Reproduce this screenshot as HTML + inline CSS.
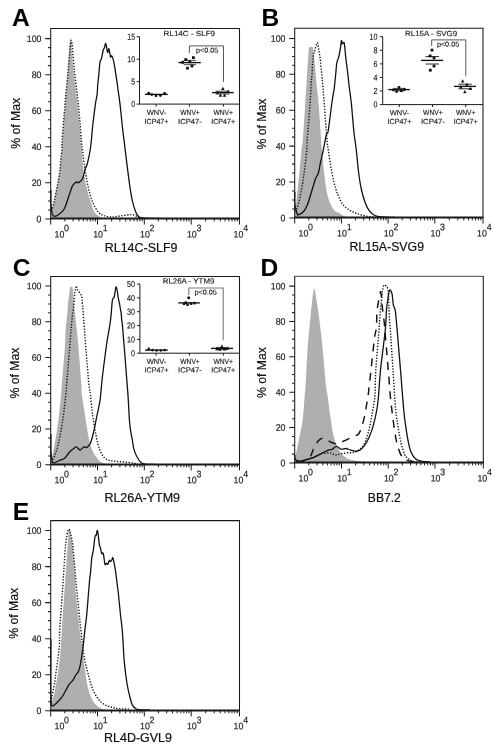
<!DOCTYPE html>
<html><head><meta charset="utf-8"><title>Figure</title>
<style>html,body{margin:0;padding:0;background:#fff}svg{display:block}text{font-family:"Liberation Sans", Arial, Helvetica, sans-serif}.tk{fill:#222;stroke:#222;stroke-width:.18px}.lb{fill:#111;stroke:#111;stroke-width:.2px}.in{fill:#222;stroke:#222;stroke-width:.15px}</style>
</head><body>
<svg width="501" height="751" viewBox="0 0 501 751">
<rect width="501" height="751" fill="#fff"/>
<path d="M50.7 218.9C50.7 217.4 50.6 211.7 50.9 210C51.1 208.3 51.5 211 52.2 209C52.9 207 53.7 203.8 54.9 198C56.1 192.2 58.2 182 59.4 174C60.5 166 61.3 155.7 61.8 150C62.3 144.3 61.8 147.5 62.4 140C63 132.5 64.3 116.5 65.2 104.8C66.1 93.1 67.1 81.2 68 70C68.9 58.8 69.6 37.8 70.5 37.8C71.4 37.8 72.3 58.8 73.5 70C74.7 81.2 76.4 93.1 77.6 104.8C78.8 116.5 79.7 128.5 80.8 140C81.9 151.5 83 165.7 84.1 174C85.2 182.3 86 184.7 87.3 190C88.6 195.3 90.6 202 92.1 206C93.5 210 94 211.8 96 214C98 216.2 102.7 218.1 104 218.9Z" fill="#afafaf" stroke="none"/>
<path d="M50.9 210.5C51.1 210.2 51.5 211.1 52.2 209C52.9 206.9 53.7 203.8 54.9 198C56.1 192.2 58.2 182 59.4 174C60.5 166 61.3 155.7 61.8 150C62.3 144.3 61.7 147.5 62.2 140C62.7 132.5 64 116.5 65 104.8C66 93.1 67.2 80.7 68.2 70C69.2 59.3 70.3 40.5 71.3 40.5C72.3 40.5 73.1 59.3 74.3 70C75.5 80.7 77.2 93.1 78.4 104.8C79.6 116.5 80.7 132.5 81.4 140C82.1 147.5 81.8 144.3 82.5 150C83.2 155.7 84.6 167.3 85.7 174C86.8 180.7 87.7 185.2 88.9 190C90.1 194.8 91.3 199 92.9 202.7C94.5 206.4 96.7 210.2 98.5 212.3C100.3 214.4 101.8 214.7 104 215.5C106.2 216.3 109.1 216.9 112 217C114.9 217.1 118.3 216.2 121.6 215.8C124.9 215.4 129.1 214.5 131.7 214.6C134.3 214.7 135.4 215.9 137 216.5C138.6 217.1 140.3 217.9 141 218.2" fill="none" stroke="#111" stroke-width="1.4" stroke-dasharray="1.3 1.6"/>
<path d="M50.9 190C50.9 192.1 50.7 198.7 50.9 202.7C51.1 206.7 51.6 211.6 52.2 213.9C52.8 216.2 53.4 216.3 54.6 216.3C55.8 216.3 57.8 215.1 59.4 213.9C61 212.7 62.7 211.7 64.2 209C65.7 206.3 66.9 201.7 68.2 198C69.5 194.3 71 189.2 72.1 186.7C73.2 184.2 74.2 183.8 75 183C75.8 182.2 76.4 182.1 77 182C77.6 181.9 77.7 183.2 78.6 182.6C79.5 182 81.4 181 82.5 178.7C83.6 176.4 84.4 171.6 85.2 169C86 166.4 86.6 166.5 87.5 163C88.4 159.5 89.6 154.5 90.5 148C91.4 141.5 92.1 131.2 92.9 124C93.7 116.8 94.6 109.8 95.3 104.8C96 99.8 96.8 97 97.2 93.7C97.6 90.4 97.4 88.1 97.7 85C98 81.9 98.4 78.7 98.8 74.9C99.2 71.1 99.5 64.9 100 62.1C100.5 59.3 101.1 60.2 101.6 58.2C102.1 56.2 102.7 51.9 103.2 50.2C103.7 48.5 104 48.9 104.4 47.8C104.8 46.7 105.3 43.4 105.7 43.5C106.1 43.6 106.5 47.1 106.8 48.6C107.1 50.1 107.3 52.6 107.6 52.6C107.9 52.6 108.5 48.7 108.8 48.6C109.1 48.5 109.3 50.8 109.6 52.2C109.9 53.6 110.2 56.4 110.5 57C110.8 57.6 111.2 55.5 111.6 55.8C112 56.1 112.5 57.4 112.9 58.6C113.3 59.8 113.6 61 114 62.9C114.4 64.8 114.8 67.6 115.2 70.1C115.6 72.6 116 75.6 116.4 78.1C116.8 80.6 117.2 83.2 117.4 85C117.7 86.8 117.5 85.6 117.9 88.9C118.4 92.2 119.3 98.4 120.1 104.8C120.8 111.2 121.8 121.4 122.4 127.3C123.1 133.2 123.2 133.8 124 140C124.8 146.2 125.9 155.8 127 164.6C128.1 173.4 129.7 185.8 130.8 192.6C131.9 199.4 132.5 201.9 133.6 205.6C134.7 209.3 135.8 212.9 137.3 215C138.9 217.1 139.1 217.3 142.9 217.9C146.7 218.5 157.2 218.3 160 218.4" fill="none" stroke="#111" stroke-width="1.3" stroke-linejoin="round"/>
<path d="M50.7 218.9V28.4H239.5V218.9" fill="none" stroke="#1a1a1a" stroke-width="1.05"/>
<path d="M50.2 218.6H240" fill="none" stroke="#1a1a1a" stroke-width="2"/>
<path d="M45.3 218.9H50.7M48.1 209.9H50.7M48.1 200.9H50.7M48.1 191.9H50.7M45.3 182.8H50.7M48.1 173.8H50.7M48.1 164.8H50.7M48.1 155.8H50.7M45.3 146.8H50.7M48.1 137.8H50.7M48.1 128.8H50.7M48.1 119.7H50.7M45.3 110.7H50.7M48.1 101.7H50.7M48.1 92.7H50.7M48.1 83.7H50.7M45.3 74.7H50.7M48.1 65.6H50.7M48.1 56.6H50.7M48.1 47.6H50.7M45.3 38.6H50.7" stroke="#1a1a1a" stroke-width="1.05" fill="none"/>
<text transform="translate(41.5 222.2) scale(.93 1) rotate(.03)" text-anchor="end" font-size="9.5" class="tk">0</text>
<text transform="translate(41.5 186.1) scale(.93 1) rotate(.03)" text-anchor="end" font-size="9.5" class="tk">20</text>
<text transform="translate(41.5 150.1) scale(.93 1) rotate(.03)" text-anchor="end" font-size="9.5" class="tk">40</text>
<text transform="translate(41.5 114) scale(.93 1) rotate(.03)" text-anchor="end" font-size="9.5" class="tk">60</text>
<text transform="translate(41.5 78) scale(.93 1) rotate(.03)" text-anchor="end" font-size="9.5" class="tk">80</text>
<text transform="translate(41.5 41.9) scale(.93 1) rotate(.03)" text-anchor="end" font-size="9.5" class="tk">100</text>
<path d="M50.7 218.9V224.5M64.8 218.9V221.4M73 218.9V221.4M78.9 218.9V221.4M83.4 218.9V221.4M87.1 218.9V221.4M90.3 218.9V221.4M93 218.9V221.4M95.4 218.9V221.4M97.5 218.9V224.5M111.6 218.9V221.4M119.9 218.9V221.4M125.7 218.9V221.4M130.2 218.9V221.4M134 218.9V221.4M137.1 218.9V221.4M139.8 218.9V221.4M142.2 218.9V221.4M144.3 218.9V224.5M158.4 218.9V221.4M166.7 218.9V221.4M172.5 218.9V221.4M177.1 218.9V221.4M180.8 218.9V221.4M183.9 218.9V221.4M186.6 218.9V221.4M189 218.9V221.4M191.2 218.9V224.5M205.7 218.9V221.4M214.2 218.9V221.4M220.3 218.9V221.4M225 218.9V221.4M228.8 218.9V221.4M232 218.9V221.4M234.8 218.9V221.4M237.3 218.9V221.4M239.5 218.9V224.5" stroke="#1a1a1a" stroke-width="1" fill="none"/>
<text transform="translate(59.4 237.4) scale(.93 1) rotate(.03)" text-anchor="middle" font-size="9.5" class="tk">10</text>
<text transform="translate(64.1 231.3) scale(.93 1) rotate(.03)" font-size="9.5" class="tk">0</text>
<text transform="translate(98.1 237.4) scale(.93 1) rotate(.03)" text-anchor="middle" font-size="9.5" class="tk">10</text>
<text transform="translate(102.8 231.3) scale(.93 1) rotate(.03)" font-size="9.5" class="tk">1</text>
<text transform="translate(144.9 237.4) scale(.93 1) rotate(.03)" text-anchor="middle" font-size="9.5" class="tk">10</text>
<text transform="translate(149.6 231.3) scale(.93 1) rotate(.03)" font-size="9.5" class="tk">2</text>
<text transform="translate(191.8 237.4) scale(.93 1) rotate(.03)" text-anchor="middle" font-size="9.5" class="tk">10</text>
<text transform="translate(196.5 231.3) scale(.93 1) rotate(.03)" font-size="9.5" class="tk">3</text>
<text transform="translate(238.5 237.4) scale(.93 1) rotate(.03)" text-anchor="middle" font-size="9.5" class="tk">10</text>
<text transform="translate(243.2 231.3) scale(.93 1) rotate(.03)" font-size="9.5" class="tk">4</text>
<text x="141.1" y="251.7" text-anchor="middle" font-size="12.2" textLength="72.7" lengthAdjust="spacingAndGlyphs" class="lb">RL14C-SLF9</text>
<text x="12.1" y="26.4" font-size="24.6" font-weight="bold" fill="#000">A</text>
<text transform="translate(20.4 123.3) rotate(-90)" text-anchor="middle" font-size="12.2" class="lb">% of Max</text>
<path d="M139.5 36.7V104.1H239.5" fill="none" stroke="#1a1a1a" stroke-width="1"/>
<text transform="translate(135.1 107.1) scale(.82 1) rotate(.03)" text-anchor="end" font-size="8.7" class="in">0</text>
<text transform="translate(135.1 84.6) scale(.82 1) rotate(.03)" text-anchor="end" font-size="8.7" class="in">5</text>
<text transform="translate(135.1 62.2) scale(.82 1) rotate(.03)" text-anchor="end" font-size="8.7" class="in">10</text>
<text transform="translate(135.1 39.7) scale(.82 1) rotate(.03)" text-anchor="end" font-size="8.7" class="in">15</text>
<path d="M136.7 104.1H139.5M136.7 81.6H139.5M136.7 59.2H139.5M136.7 36.7H139.5M156.1 104.1V106.6M189.4 104.1V106.6M223.4 104.1V106.6" stroke="#1a1a1a" stroke-width="1" fill="none"/>
<text transform="rotate(.03 163.6 35.9)" x="163.6" y="35.9" textLength="51.5" lengthAdjust="spacingAndGlyphs" font-size="7.4" class="in">RL14C - SLF9</text>
<circle cx="148.7" cy="93.2" r="1.4" fill="#111"/><circle cx="151.8" cy="94.6" r="1.4" fill="#111"/><circle cx="156" cy="95.8" r="1.4" fill="#111"/><circle cx="160.4" cy="95.5" r="1.4" fill="#111"/><circle cx="164.6" cy="93.4" r="1.4" fill="#111"/><path d="M144.8 94.4H167.8" stroke="#111" stroke-width="1.35"/>
<rect x="184.4" y="58.2" width="2.8" height="2.8" fill="#111"/><rect x="192" y="56.2" width="2.8" height="2.8" fill="#111"/><rect x="181.2" y="60.9" width="2.8" height="2.8" fill="#111"/><rect x="188.4" y="60.4" width="2.8" height="2.8" fill="#111"/><rect x="186.1" y="66.8" width="2.8" height="2.8" fill="#111"/><rect x="190.6" y="64.6" width="2.8" height="2.8" fill="#111"/><path d="M178.4 62.6H200.8" stroke="#111" stroke-width="1.35"/><path d="M183.7 60.4H196" stroke="#111" stroke-width="0.8"/><path d="M183.7 64.7H196" stroke="#111" stroke-width="0.8"/>
<path d="M222.8 86.8L224.6 90H221.1Z" fill="#111"/><path d="M217.6 90.7L219.3 93.8H215.8Z" fill="#111"/><path d="M228.1 89.8L229.8 93H226.3Z" fill="#111"/><path d="M220.4 93.5L222.2 96.7H218.7Z" fill="#111"/><path d="M224.6 93.5L226.3 96.7H222.8Z" fill="#111"/><path d="M212 92.6H233.7" stroke="#111" stroke-width="1.35"/><path d="M215.5 91.2H229.5" stroke="#111" stroke-width="0.8"/><path d="M215.5 94H229.5" stroke="#111" stroke-width="0.8"/>
<path d="M189.4 52.9V45.9H223.5V81.8" fill="none" stroke="#444" stroke-width="0.9"/>
<text transform="rotate(.03 196 52.5)" x="196" y="52.5" textLength="22.3" lengthAdjust="spacingAndGlyphs" font-size="6.9" class="in">p&lt;0.05</text>
<text transform="rotate(.03 156.5 114.9)" x="156.5" y="114.9" text-anchor="middle" textLength="19.6" lengthAdjust="spacingAndGlyphs" font-size="7.4" class="in">WNV-</text>
<text transform="rotate(.03 156.5 123.9)" x="156.5" y="123.9" text-anchor="middle" textLength="23.8" lengthAdjust="spacingAndGlyphs" font-size="7.4" class="in">ICP47+</text>
<text transform="rotate(.03 190 114.9)" x="190" y="114.9" text-anchor="middle" textLength="19.6" lengthAdjust="spacingAndGlyphs" font-size="7.4" class="in">WNV+</text>
<text transform="rotate(.03 190 123.9)" x="190" y="123.9" text-anchor="middle" textLength="23.8" lengthAdjust="spacingAndGlyphs" font-size="7.4" class="in">ICP47-</text>
<text transform="rotate(.03 223.2 114.9)" x="223.2" y="114.9" text-anchor="middle" textLength="19.6" lengthAdjust="spacingAndGlyphs" font-size="7.4" class="in">WNV+</text>
<text transform="rotate(.03 223.2 123.9)" x="223.2" y="123.9" text-anchor="middle" textLength="23.8" lengthAdjust="spacingAndGlyphs" font-size="7.4" class="in">ICP47+</text>
<path d="M294.7 217.9C294.7 216.9 294.6 215.3 294.9 212C295.2 208.7 296 204.3 296.7 198C297.4 191.7 298.5 182 299.3 174C300.1 166 300.9 155.7 301.5 150C302.1 144.3 302.2 147.5 302.8 140C303.4 132.5 304.6 114 305.2 104.8C305.8 95.6 306 90.8 306.4 85C306.8 79.2 307 74.5 307.3 70C307.6 65.5 307.9 61.6 308.2 58C308.4 54.4 308.6 50.4 308.8 48.6C309 46.8 309 47.4 309.6 47.2C310.2 47 311.9 47 312.5 47.2C313.1 47.4 313 46.8 313.3 48.6C313.6 50.4 313.9 54.4 314.2 58C314.5 61.6 315 65.5 315.4 70C315.8 74.5 316.1 79.2 316.7 85C317.2 90.8 318 95.6 318.7 104.8C319.4 114 320.6 132.5 321.1 140C321.6 147.5 321.4 144.3 321.9 150C322.4 155.7 323.6 167.3 324.3 174C325.1 180.7 325.5 185.2 326.4 190C327.3 194.8 328.5 199.2 329.9 202.7C331.3 206.1 333.1 209 334.7 210.7C336.3 212.4 337.9 212.1 339.5 213C341.1 213.9 342.1 215.5 344.3 216.3C346.6 217.1 351.6 217.6 353 217.9Z" fill="#afafaf" stroke="none"/>
<path d="M294.9 211.5C295.2 211.1 295.9 211.2 296.7 209C297.5 206.8 298.7 203.8 299.9 198C301.1 192.2 302.9 182 304 174C305.1 166 306.3 155.7 306.8 150C307.3 144.3 306.7 147.5 307.2 140C307.7 132.5 309.3 114.3 310 104.8C310.7 95.3 310.9 87.9 311.2 82.9C311.5 77.9 311.8 77.6 312 74.9C312.2 72.2 312.3 69.3 312.4 66.9C312.5 64.5 312.6 62.5 312.8 60.5C313 58.5 313.2 56.5 313.6 54.6C314 52.7 314.6 51 315.2 49C315.8 47 316.6 42.9 317.2 42.8C317.8 42.7 318.2 46.6 318.6 48.6C319 50.6 319.3 52.6 319.6 54.6C319.9 56.6 320.1 58 320.4 60.5C320.7 63 320.9 66.5 321.2 69.3C321.5 72.1 321.8 74.9 322 77.3C322.2 79.7 322.2 79.1 322.6 83.7C323 88.3 323.6 95.4 324.3 104.8C325 114.2 326.3 132.5 327 140C327.7 147.5 327.7 145.7 328.3 150C328.9 154.3 329.8 160.7 330.7 166C331.6 171.3 332.7 177.2 333.9 182C335.1 186.8 336.4 191 337.9 194.7C339.4 198.4 340.8 201.8 342.7 204.3C344.6 206.8 347 208.5 349.1 209.9C351.2 211.3 353.1 212.1 355.5 213C357.9 213.9 360.8 214.8 363.5 215.5C366.2 216.2 369.2 216.7 372 217C374.8 217.3 378.7 217.5 380 217.6" fill="none" stroke="#111" stroke-width="1.4" stroke-dasharray="1.3 1.6"/>
<path d="M294.9 192C294.9 194.1 294.5 200.7 294.9 204.3C295.3 208 296.5 212.2 297.2 213.9C297.9 215.6 297.7 215.1 298.8 214.7C299.9 214.3 302.1 213.2 303.6 211.5C305.1 209.8 306.3 207.6 307.6 204.3C308.9 201 310.3 195.8 311.6 191.5C312.9 187.2 314.4 181.8 315.5 178.7C316.6 175.6 317.5 175.9 318.4 173C319.3 170.1 319.8 165.5 320.7 161.5C321.6 157.5 322.6 153.4 323.5 149C324.4 144.6 325.6 137.6 326.4 134.8C327.1 132 327.4 135.1 328 132C328.6 128.9 329.5 121.3 330.2 116C330.9 110.7 331.6 104.5 332.3 100C333 95.5 333.8 91.4 334.2 88.9C334.6 86.4 334.3 87.6 334.6 85C334.9 82.4 335.4 77 335.8 73.3C336.2 69.6 336.3 65.5 336.8 62.9C337.3 60.2 338 59.6 338.6 57.4C339.2 55.1 339.7 52.2 340.2 49.4C340.7 46.6 341.1 41.6 341.4 40.7C341.7 39.8 341.9 43.5 342.2 43.8C342.5 44.1 342.9 42.7 343.2 42.6C343.5 42.5 343.9 41.9 344.2 43C344.5 44.1 344.7 46.4 345 49.4C345.3 52.4 345.7 57.3 346.2 61.3C346.7 65.3 347.3 69.3 347.8 73.3C348.3 77.2 348.7 82.4 349 85C349.3 87.6 349.1 85.6 349.5 88.9C349.9 92.2 350.8 97.6 351.5 104.8C352.2 112 353.1 124.5 353.9 132C354.7 139.5 355.5 143 356.3 150C357.1 157 357.9 167.3 358.8 174C359.7 180.7 360.4 185.2 361.5 190C362.6 194.8 363.9 199.2 365.2 202.7C366.5 206.1 367.6 208.6 369.2 210.7C370.8 212.8 372.7 214.4 374.8 215.5C376.9 216.6 378.5 216.7 381.9 217C385.3 217.3 392.8 217.4 395 217.5" fill="none" stroke="#111" stroke-width="1.3" stroke-linejoin="round"/>
<path d="M294.7 217.9V28.3H483V217.9" fill="none" stroke="#1a1a1a" stroke-width="1.05"/>
<path d="M294.2 217.6H483.5" fill="none" stroke="#1a1a1a" stroke-width="2"/>
<path d="M289.3 217.9H294.7M292.1 208.9H294.7M292.1 200H294.7M292.1 191H294.7M289.3 182H294.7M292.1 173H294.7M292.1 164.1H294.7M292.1 155.1H294.7M289.3 146.1H294.7M292.1 137.1H294.7M292.1 128.2H294.7M292.1 119.2H294.7M289.3 110.2H294.7M292.1 101.2H294.7M292.1 92.3H294.7M292.1 83.3H294.7M289.3 74.3H294.7M292.1 65.3H294.7M292.1 56.4H294.7M292.1 47.4H294.7M289.3 38.4H294.7" stroke="#1a1a1a" stroke-width="1.05" fill="none"/>
<text transform="translate(285.5 221.2) scale(.93 1) rotate(.03)" text-anchor="end" font-size="9.5" class="tk">0</text>
<text transform="translate(285.5 185.3) scale(.93 1) rotate(.03)" text-anchor="end" font-size="9.5" class="tk">20</text>
<text transform="translate(285.5 149.4) scale(.93 1) rotate(.03)" text-anchor="end" font-size="9.5" class="tk">40</text>
<text transform="translate(285.5 113.5) scale(.93 1) rotate(.03)" text-anchor="end" font-size="9.5" class="tk">60</text>
<text transform="translate(285.5 77.6) scale(.93 1) rotate(.03)" text-anchor="end" font-size="9.5" class="tk">80</text>
<text transform="translate(285.5 41.7) scale(.93 1) rotate(.03)" text-anchor="end" font-size="9.5" class="tk">100</text>
<path d="M294.7 217.9V223.5M308.8 217.9V220.4M317 217.9V220.4M322.8 217.9V220.4M327.3 217.9V220.4M331 217.9V220.4M334.2 217.9V220.4M336.9 217.9V220.4M339.3 217.9V220.4M341.4 217.9V223.5M355.5 217.9V220.4M363.7 217.9V220.4M369.5 217.9V220.4M374 217.9V220.4M377.7 217.9V220.4M380.9 217.9V220.4M383.6 217.9V220.4M386 217.9V220.4M388.1 217.9V223.5M402.2 217.9V220.4M410.4 217.9V220.4M416.2 217.9V220.4M420.7 217.9V220.4M424.4 217.9V220.4M427.6 217.9V220.4M430.3 217.9V220.4M432.7 217.9V220.4M434.8 217.9V223.5M449.3 217.9V220.4M457.8 217.9V220.4M463.8 217.9V220.4M468.5 217.9V220.4M472.3 217.9V220.4M475.5 217.9V220.4M478.3 217.9V220.4M480.8 217.9V220.4M483 217.9V223.5" stroke="#1a1a1a" stroke-width="1" fill="none"/>
<text transform="translate(303.4 236.4) scale(.93 1) rotate(.03)" text-anchor="middle" font-size="9.5" class="tk">10</text>
<text transform="translate(308.1 230.3) scale(.93 1) rotate(.03)" font-size="9.5" class="tk">0</text>
<text transform="translate(342 236.4) scale(.93 1) rotate(.03)" text-anchor="middle" font-size="9.5" class="tk">10</text>
<text transform="translate(346.7 230.3) scale(.93 1) rotate(.03)" font-size="9.5" class="tk">1</text>
<text transform="translate(388.7 236.4) scale(.93 1) rotate(.03)" text-anchor="middle" font-size="9.5" class="tk">10</text>
<text transform="translate(393.4 230.3) scale(.93 1) rotate(.03)" font-size="9.5" class="tk">2</text>
<text transform="translate(435.4 236.4) scale(.93 1) rotate(.03)" text-anchor="middle" font-size="9.5" class="tk">10</text>
<text transform="translate(440.1 230.3) scale(.93 1) rotate(.03)" font-size="9.5" class="tk">3</text>
<text transform="translate(482 236.4) scale(.93 1) rotate(.03)" text-anchor="middle" font-size="9.5" class="tk">10</text>
<text transform="translate(486.7 230.3) scale(.93 1) rotate(.03)" font-size="9.5" class="tk">4</text>
<text x="386.7" y="251" text-anchor="middle" font-size="12.2" textLength="74.6" lengthAdjust="spacingAndGlyphs" class="lb">RL15A-SVG9</text>
<text x="261.6" y="26.4" font-size="24.6" font-weight="bold" fill="#000">B</text>
<text transform="translate(265.6 124) rotate(-90)" text-anchor="middle" font-size="12.2" class="lb">% of Max</text>
<path d="M382.7 36.7V104.6H483" fill="none" stroke="#1a1a1a" stroke-width="1"/>
<text transform="translate(377.4 107.6) scale(.82 1) rotate(.03)" text-anchor="end" font-size="8.7" class="in">0</text>
<text transform="translate(377.4 94) scale(.82 1) rotate(.03)" text-anchor="end" font-size="8.7" class="in">2</text>
<text transform="translate(377.4 80.4) scale(.82 1) rotate(.03)" text-anchor="end" font-size="8.7" class="in">4</text>
<text transform="translate(377.4 66.9) scale(.82 1) rotate(.03)" text-anchor="end" font-size="8.7" class="in">6</text>
<text transform="translate(377.4 53.3) scale(.82 1) rotate(.03)" text-anchor="end" font-size="8.7" class="in">8</text>
<text transform="translate(377.4 39.7) scale(.82 1) rotate(.03)" text-anchor="end" font-size="8.7" class="in">10</text>
<path d="M379.9 104.6H382.7M379.9 91H382.7M379.9 77.4H382.7M379.9 63.9H382.7M379.9 50.3H382.7M379.9 36.7H382.7M399.3 104.6V107.1M432.6 104.6V107.1M465.8 104.6V107.1" stroke="#1a1a1a" stroke-width="1" fill="none"/>
<text transform="rotate(.03 405 35.9)" x="405" y="35.9" textLength="52.1" lengthAdjust="spacingAndGlyphs" font-size="7.4" class="in">RL15A - SVG9</text>
<circle cx="399" cy="87.4" r="1.4" fill="#111"/><circle cx="393.2" cy="89.8" r="1.4" fill="#111"/><circle cx="396.6" cy="91.6" r="1.4" fill="#111"/><circle cx="401.3" cy="90.9" r="1.4" fill="#111"/><circle cx="404.6" cy="89.5" r="1.4" fill="#111"/><path d="M388.3 89.6H409.9" stroke="#111" stroke-width="1.35"/><path d="M393.5 88.4H404.5" stroke="#111" stroke-width="0.8"/><path d="M393.5 90.9H404.5" stroke="#111" stroke-width="0.8"/>
<rect x="430.6" y="48.7" width="2.8" height="2.8" fill="#111"/><rect x="428.7" y="54.5" width="2.8" height="2.8" fill="#111"/><rect x="432.6" y="56.6" width="2.8" height="2.8" fill="#111"/><rect x="432.6" y="64.6" width="2.8" height="2.8" fill="#111"/><rect x="428.9" y="68.8" width="2.8" height="2.8" fill="#111"/><path d="M421 60.4H443.2" stroke="#111" stroke-width="1.35"/><path d="M425.5 56.6H439" stroke="#111" stroke-width="0.9"/><path d="M425.5 64H439" stroke="#111" stroke-width="0.9"/>
<path d="M462.7 79.2L464.4 82.4H460.9Z" fill="#111"/><path d="M466.9 82.7L468.6 85.8H465.1Z" fill="#111"/><path d="M460.8 85.2L462.6 88.4H459.1Z" fill="#111"/><path d="M470.4 86.8L472.1 90H468.6Z" fill="#111"/><path d="M464.8 90L466.6 93.2H463.1Z" fill="#111"/><path d="M454 86.4H476" stroke="#111" stroke-width="1.35"/><path d="M458.5 84.2H471.8" stroke="#111" stroke-width="0.9"/><path d="M458.5 88.8H471.8" stroke="#111" stroke-width="0.9"/>
<path d="M431.7 45.9V39.9H465.8V76.2" fill="none" stroke="#444" stroke-width="0.9"/>
<text transform="rotate(.03 436.9 46.4)" x="436.9" y="46.4" textLength="22.3" lengthAdjust="spacingAndGlyphs" font-size="6.9" class="in">p&lt;0.05</text>
<text transform="rotate(.03 399.5 115.3)" x="399.5" y="115.3" text-anchor="middle" textLength="19.6" lengthAdjust="spacingAndGlyphs" font-size="7.4" class="in">WNV-</text>
<text transform="rotate(.03 399.5 124.1)" x="399.5" y="124.1" text-anchor="middle" textLength="23.8" lengthAdjust="spacingAndGlyphs" font-size="7.4" class="in">ICP47+</text>
<text transform="rotate(.03 432.9 115.3)" x="432.9" y="115.3" text-anchor="middle" textLength="19.6" lengthAdjust="spacingAndGlyphs" font-size="7.4" class="in">WNV+</text>
<text transform="rotate(.03 432.9 124.1)" x="432.9" y="124.1" text-anchor="middle" textLength="23.8" lengthAdjust="spacingAndGlyphs" font-size="7.4" class="in">ICP47-</text>
<text transform="rotate(.03 465.7 115.3)" x="465.7" y="115.3" text-anchor="middle" textLength="19.6" lengthAdjust="spacingAndGlyphs" font-size="7.4" class="in">WNV+</text>
<text transform="rotate(.03 465.7 124.1)" x="465.7" y="124.1" text-anchor="middle" textLength="23.8" lengthAdjust="spacingAndGlyphs" font-size="7.4" class="in">ICP47+</text>
<path d="M50.7 464.8C50.9 463.8 51 462.5 51.7 458.9C52.4 455.2 53.8 449.5 54.9 442.9C56 436.2 57.6 427 58.6 419C59.6 411 60.5 400.7 61 395C61.5 389.3 61.1 393.3 61.8 385C62.5 376.7 64.4 354.2 65 345C65.6 335.8 65.3 334.7 65.6 330C65.9 325.3 66.6 321.3 67 317C67.4 312.7 67.6 308 68 304C68.4 300 69 295.7 69.3 293C69.6 290.3 69.8 288.8 70 287.8C70.2 286.8 70.3 287 70.6 286.9C70.9 286.8 71.6 286.8 71.9 286.9C72.2 287 72.3 286.8 72.5 287.8C72.7 288.8 73 290.3 73.2 293C73.5 295.7 73.6 300 74 304C74.4 308 74.9 312.7 75.4 317C75.9 321.3 76.3 325.3 76.8 330C77.3 334.7 77.5 335.8 78.3 345C79.1 354.2 80.8 376.7 81.4 385C82 393.3 81.2 389.3 81.9 395C82.6 400.7 84.7 412.4 85.7 419C86.7 425.6 87.2 430.1 88.1 434.9C89 439.7 90.1 444.2 91.3 447.7C92.5 451.2 93.7 453.3 95.3 455.7C96.9 458.1 98.8 460.5 100.9 462C103 463.5 106.8 464.3 108 464.8Z" fill="#afafaf" stroke="none"/>
<path d="M51 462C51.6 460.9 53.3 458.9 54.6 455.7C55.9 452.5 57.2 449 58.6 442.9C60 436.8 61.7 427 62.9 419C64.1 411 65.2 400.7 65.8 395C66.4 389.3 66 392.5 66.6 385C67.2 377.5 68.7 359.3 69.5 349.8C70.3 340.3 70.7 333.5 71.2 327.9C71.7 322.2 72 319.4 72.4 315.9C72.8 312.4 73.3 310 73.6 307.1C73.9 304.2 74.2 300.9 74.4 298.4C74.6 295.9 74.6 293.7 74.8 292C75 290.3 75.5 289 75.8 288C76.1 287 76.3 285.7 76.5 285.8C76.7 285.9 76.5 287.6 76.9 288.6C77.3 289.6 78.2 290.5 78.9 291.6C79.6 292.7 80.7 294 81.2 295.2C81.7 296.4 81.8 297.3 82 298.8C82.2 300.3 82.2 301.8 82.4 304C82.6 306.2 82.8 307.9 83.1 311.9C83.4 315.9 83.8 321.6 84.3 327.9C84.8 334.2 85.2 340.3 86 349.8C86.8 359.3 88.2 377.5 88.9 385C89.7 392.5 90 390.7 90.5 395C91 399.3 91.4 405.7 92.1 411C92.8 416.3 93.6 421.6 94.5 426.9C95.4 432.2 96.5 438.4 97.7 442.9C98.9 447.4 100.1 451.3 101.7 454.1C103.3 456.9 105 458.5 107.3 459.7C109.6 460.9 112.4 460.9 115.3 461.3C118.2 461.7 121.7 461.7 124.8 462C127.9 462.3 131.6 462.8 133.8 463.2C136 463.6 137.3 464.1 138 464.3" fill="none" stroke="#111" stroke-width="1.4" stroke-dasharray="1.3 1.6"/>
<path d="M50.9 434C50.9 436.8 50.7 446.3 50.9 450.9C51.1 455.4 51.7 459.3 52.2 461.3C52.7 463.3 52.6 463 53.8 462.9C55 462.8 57.5 461.3 59.4 460.5C61.3 459.7 63.3 459.5 65 458C66.7 456.5 68.3 453.3 69.8 451.7C71.2 450.1 72.7 449.3 73.7 448.5C74.8 447.7 75 446.6 76.1 446.9C77.2 447.1 79 449.8 80.1 450C81.2 450.2 81.7 448.5 82.5 448C83.3 447.5 84.2 447 84.9 446.9C85.7 446.8 86.1 448 87 447.3C87.9 446.6 89.4 445.5 90.5 442.9C91.6 440.3 92.6 436.2 93.7 431.7C94.8 427.2 95.8 421.1 96.9 415.8C98 410.5 99.1 406.6 100.1 399.8C101 393 101.5 384.1 102.6 375C103.7 365.9 105.5 352.4 106.5 345C107.5 337.6 108.2 335.2 108.9 330.7C109.6 326.2 110.2 323 110.8 317.9C111.4 312.8 111.8 303.8 112.4 300.3C113 296.8 113.6 299.2 114.2 297C114.8 294.8 115.6 286.6 116.3 286.8C117 287 117.8 295.3 118.3 298.2C118.8 301.1 119.2 302.2 119.6 304C119.9 305.8 120.2 307.6 120.4 309C120.7 310.4 120.8 310.6 121.1 312.7C121.3 314.8 121.7 319.4 121.9 321.5C122.1 323.6 122 320.4 122.4 325C122.8 329.6 123.7 340.7 124.4 349C125.1 357.3 125.8 367 126.4 375C127 383 127.6 389.4 128.1 396.9C128.6 404.4 129 414.4 129.4 420C129.8 425.6 130.1 427.1 130.6 430.6C131.1 434.1 132 438 132.5 441C133 444 133.1 446.2 133.8 448.8C134.5 451.4 135.5 454 136.7 456.3C137.9 458.6 139.5 461.3 140.9 462.6C142.3 463.9 142.7 463.8 145 464.1C147.3 464.4 153.3 464.3 155 464.3" fill="none" stroke="#111" stroke-width="1.3" stroke-linejoin="round"/>
<path d="M50.7 464.8V276.4H239.5V464.8" fill="none" stroke="#1a1a1a" stroke-width="1.05"/>
<path d="M50.2 464.4H240" fill="none" stroke="#1a1a1a" stroke-width="2"/>
<path d="M45.3 464.8H50.7M48.1 455.9H50.7M48.1 446.9H50.7M48.1 438H50.7M45.3 429H50.7M48.1 420.1H50.7M48.1 411.2H50.7M48.1 402.2H50.7M45.3 393.3H50.7M48.1 384.3H50.7M48.1 375.4H50.7M48.1 366.5H50.7M45.3 357.5H50.7M48.1 348.6H50.7M48.1 339.6H50.7M48.1 330.7H50.7M45.3 321.8H50.7M48.1 312.8H50.7M48.1 303.9H50.7M48.1 294.9H50.7M45.3 286H50.7" stroke="#1a1a1a" stroke-width="1.05" fill="none"/>
<text transform="translate(41.5 468.1) scale(.93 1) rotate(.03)" text-anchor="end" font-size="9.5" class="tk">0</text>
<text transform="translate(41.5 432.3) scale(.93 1) rotate(.03)" text-anchor="end" font-size="9.5" class="tk">20</text>
<text transform="translate(41.5 396.6) scale(.93 1) rotate(.03)" text-anchor="end" font-size="9.5" class="tk">40</text>
<text transform="translate(41.5 360.8) scale(.93 1) rotate(.03)" text-anchor="end" font-size="9.5" class="tk">60</text>
<text transform="translate(41.5 325.1) scale(.93 1) rotate(.03)" text-anchor="end" font-size="9.5" class="tk">80</text>
<text transform="translate(41.5 289.3) scale(.93 1) rotate(.03)" text-anchor="end" font-size="9.5" class="tk">100</text>
<path d="M50.7 464.8V470.4M64.8 464.8V467.3M73 464.8V467.3M78.9 464.8V467.3M83.4 464.8V467.3M87.1 464.8V467.3M90.3 464.8V467.3M93 464.8V467.3M95.4 464.8V467.3M97.5 464.8V470.4M111.6 464.8V467.3M119.9 464.8V467.3M125.7 464.8V467.3M130.2 464.8V467.3M134 464.8V467.3M137.1 464.8V467.3M139.8 464.8V467.3M142.2 464.8V467.3M144.3 464.8V470.4M158.4 464.8V467.3M166.7 464.8V467.3M172.5 464.8V467.3M177.1 464.8V467.3M180.8 464.8V467.3M183.9 464.8V467.3M186.6 464.8V467.3M189 464.8V467.3M191.2 464.8V470.4M205.7 464.8V467.3M214.2 464.8V467.3M220.3 464.8V467.3M225 464.8V467.3M228.8 464.8V467.3M232 464.8V467.3M234.8 464.8V467.3M237.3 464.8V467.3M239.5 464.8V470.4" stroke="#1a1a1a" stroke-width="1" fill="none"/>
<text transform="translate(59.4 483.3) scale(.93 1) rotate(.03)" text-anchor="middle" font-size="9.5" class="tk">10</text>
<text transform="translate(64.1 477.2) scale(.93 1) rotate(.03)" font-size="9.5" class="tk">0</text>
<text transform="translate(98.1 483.3) scale(.93 1) rotate(.03)" text-anchor="middle" font-size="9.5" class="tk">10</text>
<text transform="translate(102.8 477.2) scale(.93 1) rotate(.03)" font-size="9.5" class="tk">1</text>
<text transform="translate(144.9 483.3) scale(.93 1) rotate(.03)" text-anchor="middle" font-size="9.5" class="tk">10</text>
<text transform="translate(149.6 477.2) scale(.93 1) rotate(.03)" font-size="9.5" class="tk">2</text>
<text transform="translate(191.8 483.3) scale(.93 1) rotate(.03)" text-anchor="middle" font-size="9.5" class="tk">10</text>
<text transform="translate(196.5 477.2) scale(.93 1) rotate(.03)" font-size="9.5" class="tk">3</text>
<text transform="translate(238.5 483.3) scale(.93 1) rotate(.03)" text-anchor="middle" font-size="9.5" class="tk">10</text>
<text transform="translate(243.2 477.2) scale(.93 1) rotate(.03)" font-size="9.5" class="tk">4</text>
<text x="142.2" y="502" text-anchor="middle" font-size="12.2" textLength="75.6" lengthAdjust="spacingAndGlyphs" class="lb">RL26A-YTM9</text>
<text x="12.8" y="276.4" font-size="24.6" font-weight="bold" fill="#000">C</text>
<text transform="translate(19.3 373) rotate(-90)" text-anchor="middle" font-size="12.2" class="lb">% of Max</text>
<path d="M139.9 284.1V353.2H239.5" fill="none" stroke="#1a1a1a" stroke-width="1"/>
<text transform="translate(135 356.2) scale(.82 1) rotate(.03)" text-anchor="end" font-size="8.7" class="in">0</text>
<text transform="translate(135 342.4) scale(.82 1) rotate(.03)" text-anchor="end" font-size="8.7" class="in">10</text>
<text transform="translate(135 328.6) scale(.82 1) rotate(.03)" text-anchor="end" font-size="8.7" class="in">20</text>
<text transform="translate(135 314.7) scale(.82 1) rotate(.03)" text-anchor="end" font-size="8.7" class="in">30</text>
<text transform="translate(135 300.9) scale(.82 1) rotate(.03)" text-anchor="end" font-size="8.7" class="in">40</text>
<text transform="translate(135 287.1) scale(.82 1) rotate(.03)" text-anchor="end" font-size="8.7" class="in">50</text>
<path d="M137.1 353.2H139.9M137.1 339.4H139.9M137.1 325.6H139.9M137.1 311.7H139.9M137.1 297.9H139.9M137.1 284.1H139.9M156.1 353.2V355.7M189.4 353.2V355.7M223.3 353.2V355.7" stroke="#1a1a1a" stroke-width="1" fill="none"/>
<text transform="rotate(.03 162.7 283.4)" x="162.7" y="283.4" textLength="51.7" lengthAdjust="spacingAndGlyphs" font-size="7.4" class="in">RL26A - YTM9</text>
<circle cx="148.7" cy="348.9" r="1.3" fill="#111"/><circle cx="152.5" cy="350.1" r="1.3" fill="#111"/><circle cx="156.6" cy="350.5" r="1.3" fill="#111"/><circle cx="160.8" cy="350.5" r="1.3" fill="#111"/><circle cx="164.6" cy="350.1" r="1.3" fill="#111"/><path d="M145 350.1H167.8" stroke="#111" stroke-width="1.35"/>
<rect x="182.8" y="302.6" width="2.5" height="2.5" fill="#111"/><rect x="186.3" y="303.4" width="2.5" height="2.5" fill="#111"/><rect x="189.8" y="302.4" width="2.5" height="2.5" fill="#111"/><rect x="193.3" y="301.9" width="2.5" height="2.5" fill="#111"/><rect x="184.6" y="301.4" width="2.5" height="2.5" fill="#111"/><circle cx="188.7" cy="297.7" r="1.5" fill="#111"/><path d="M178.3 302.9H199.9" stroke="#111" stroke-width="1.35"/>
<path d="M217 347.1L218.8 350.2H215.2Z" fill="#111"/><path d="M219.8 347.6L221.6 350.8H218.1Z" fill="#111"/><path d="M221.9 344.6L223.7 347.7H220.2Z" fill="#111"/><path d="M224.6 347.4L226.3 350.6H222.8Z" fill="#111"/><path d="M227.4 346.4L229.2 349.6H225.7Z" fill="#111"/><path d="M211 348.4H233" stroke="#111" stroke-width="1.35"/><path d="M216 347.6H228.5" stroke="#111" stroke-width="0.8"/><path d="M216 349.4H228.5" stroke="#111" stroke-width="0.8"/>
<path d="M188.8 294.9V288H223.2V340.3" fill="none" stroke="#7a7a7a" stroke-width="1.1"/>
<text transform="rotate(.03 194.6 294.4)" x="194.6" y="294.4" textLength="22.3" lengthAdjust="spacingAndGlyphs" font-size="6.9" class="in">p&lt;0.05</text>
<text transform="rotate(.03 156.5 364)" x="156.5" y="364" text-anchor="middle" textLength="19.6" lengthAdjust="spacingAndGlyphs" font-size="7.4" class="in">WNV-</text>
<text transform="rotate(.03 156.5 372.6)" x="156.5" y="372.6" text-anchor="middle" textLength="23.8" lengthAdjust="spacingAndGlyphs" font-size="7.4" class="in">ICP47+</text>
<text transform="rotate(.03 190 364)" x="190" y="364" text-anchor="middle" textLength="19.6" lengthAdjust="spacingAndGlyphs" font-size="7.4" class="in">WNV+</text>
<text transform="rotate(.03 190 372.6)" x="190" y="372.6" text-anchor="middle" textLength="23.8" lengthAdjust="spacingAndGlyphs" font-size="7.4" class="in">ICP47-</text>
<text transform="rotate(.03 223.2 364)" x="223.2" y="364" text-anchor="middle" textLength="19.6" lengthAdjust="spacingAndGlyphs" font-size="7.4" class="in">WNV+</text>
<text transform="rotate(.03 223.2 372.6)" x="223.2" y="372.6" text-anchor="middle" textLength="23.8" lengthAdjust="spacingAndGlyphs" font-size="7.4" class="in">ICP47+</text>
<path d="M294.7 462.6C294.8 461.5 294.9 459.3 295.5 456C296.1 452.7 297.1 448.9 298.3 442.9C299.5 436.9 301.6 427.6 302.6 420C303.7 412.4 304.1 403 304.6 397C305.1 391 305.2 392.3 305.7 384C306.2 375.7 306.9 358 307.7 347C308.5 336 309.6 326.1 310.4 317.9C311.2 309.7 311.9 302.9 312.5 298C313.1 293.1 313.7 288.4 314.3 288.4C314.9 288.4 315.4 293.1 316.2 298C317 302.9 318.1 309.7 319.1 317.9C320.2 326.1 321.4 335.8 322.5 347C323.6 358.2 325.1 377 325.9 385C326.7 393 326.7 389.3 327.5 395C328.3 400.7 329.7 412.4 330.7 419C331.7 425.6 332.2 430.1 333.4 434.9C334.6 439.7 336.2 444.2 337.9 447.7C339.6 451.2 341.4 453.7 343.5 455.7C345.6 457.7 347.9 458.8 350.7 459.7C353.5 460.6 356.2 460.8 360.3 461.3C364.4 461.8 372.6 462.4 375 462.6Z" fill="#afafaf" stroke="none"/>
<path d="M295.6 458.9C296.3 459.3 297.9 461.2 299.6 461.3C301.3 461.4 304.1 460.6 306 459.7C307.9 458.8 309.5 457.7 310.8 455.7C312.1 453.7 312.8 450.1 314 447.7C315.2 445.3 316.6 442.9 317.9 441.3C319.2 439.8 320.6 438.8 321.9 438.4C323.2 438 324.4 438.3 325.9 438.9C327.4 439.5 329.1 441.3 330.7 442.1C332.3 442.9 333.8 443.7 335.5 443.7C337.2 443.7 339.1 442.8 341.1 442.1C343.1 441.4 345.4 440.4 347.5 439.4C349.6 438.4 352.2 437 353.9 436.2C355.6 435.4 356.8 435.5 357.9 434.6C359 433.7 359.5 432.7 360.3 430.9C361.1 429.1 361.9 426.5 362.7 423.7C363.5 420.9 364.4 417.4 365 414.2C365.6 411 366.1 407.8 366.6 404.6C367.1 401.4 367.5 400.8 368.2 395C368.9 389.2 369.9 379.4 371 369.9C372.1 360.4 373.6 345 374.5 338C375.4 331 375.9 332.4 376.3 327.7C376.8 323 376.6 315.2 377.2 309.7C377.8 304.2 379.3 297.7 379.9 294.8C380.5 291.9 380.5 290.4 380.9 292.5C381.3 294.6 381.7 302.2 382.3 307.3C382.9 312.4 383.8 318.3 384.3 322.9C384.8 327.5 384.9 329.6 385.3 334.8C385.7 340 386.3 346.8 386.9 354C387.5 361.2 388.3 370.7 388.9 377.9C389.5 385.1 389.9 391.5 390.4 397C390.9 402.5 391.4 406 392 411C392.6 416 393.3 421.6 394.1 426.9C394.9 432.2 395.7 438.4 396.8 442.9C397.9 447.4 399.2 451.4 400.5 454.1C401.8 456.8 402.8 457.7 404.5 458.9C406.2 460.1 408.3 460.8 410.9 461.3C413.5 461.8 418.5 461.9 420 462" fill="none" stroke="#111" stroke-width="1.45" stroke-dasharray="7.8 6.8" stroke-dashoffset="12.2"/>
<path d="M297.2 461.3C297.6 461.4 298.1 462.3 299.6 462C301.1 461.7 303.6 460.5 306 459.7C308.4 458.9 311.4 458.4 314 457.3C316.6 456.2 320 454 321.9 453.3C323.8 452.6 323.8 453.4 325.1 453.3C326.5 453.2 328.3 452.5 330 452.8C331.7 453.1 333.6 454.7 335.5 454.9C337.4 455.1 339.1 454.1 341.1 453.8C343.1 453.5 345.5 453 347.5 452.8C349.5 452.6 351.4 452.9 353 452.6C354.6 452.3 355.7 452.1 357.4 451C359.1 449.9 361.5 448.2 363 446.1C364.5 444 365.4 441.3 366.5 438.1C367.6 434.9 368.7 431.4 369.7 426.9C370.7 422.4 371.7 416.3 372.6 411C373.5 405.7 374.5 401.9 375 395C375.5 388.1 375.1 380.7 375.8 369.9C376.5 359.1 378.4 338.2 379 330C379.6 321.8 379.1 326.3 379.6 320.5C380.1 314.7 381.6 300 382.1 295C382.6 290 382.1 292.3 382.5 290.6C382.9 288.9 383.4 285.2 384.3 285C385.2 284.8 387.1 286.1 387.9 289.4C388.6 292.7 388.5 299.3 388.8 304.9C389.1 310.5 389.4 318.7 389.7 322.9C390 327.1 389.8 322.2 390.4 330C390.9 337.8 392.1 356.6 393 369.9C393.9 383.2 394.8 400.3 395.7 409.8C396.6 419.3 397.2 421.4 398.1 426.9C399 432.4 399.9 438.4 401 442.9C402.1 447.4 403.2 451.4 404.5 454.1C405.8 456.8 406.9 457.6 408.5 458.9C410.1 460.1 411.9 461.1 414.1 461.6C416.4 462.2 420.7 462.1 422 462.2" fill="none" stroke="#111" stroke-width="1.4" stroke-dasharray="1.3 1.6"/>
<path d="M294.9 455C294.9 455.5 294.5 456.9 294.9 458C295.3 459.1 296.4 460.6 297.2 461.3C298 462 298.1 462.3 299.6 462C301.1 461.7 303.6 460.5 306 459.7C308.4 458.9 311.4 458.4 314 457.3C316.6 456.2 319.5 454.5 321.9 453.3C324.3 452.1 326.6 450.8 328.3 450.1C330 449.4 331 449.9 332.3 449.3C333.6 448.7 334.8 446.4 336.3 446.4C337.8 446.4 339.5 448.9 341.1 449.3C342.7 449.7 344.3 448.4 345.9 448.5C347.5 448.6 348.8 449.7 350.7 450.1C352.6 450.6 355.2 451.5 357.1 451.2C359 450.9 360.4 449.9 361.9 448.5C363.4 447.1 364.9 444.9 366.2 442.9C367.4 440.9 368.3 439.2 369.4 436.5C370.5 433.8 371.7 431.1 372.9 426.9C374.1 422.6 375.7 416.3 376.6 411C377.6 405.7 378 401.9 378.6 395C379.2 388.1 379.4 380.7 380.5 369.9C381.6 359.1 384.3 339.8 385.3 330C386.3 320.2 386 316.1 386.4 310.9C386.8 305.7 387.3 302.5 387.9 299C388.4 295.5 389 290.8 389.7 290C390.4 289.2 391.5 291.7 392.1 294.2C392.7 296.7 392.8 302.3 393.3 304.9C393.8 307.5 394.6 307.1 395.1 309.7C395.6 312.3 395.9 316.6 396.3 320.5C396.7 324.4 396.7 324.8 397.4 333C398.1 341.2 399.4 357.1 400.5 369.9C401.6 382.7 402.8 400.3 403.7 409.8C404.6 419.3 405 421.4 405.8 426.9C406.6 432.4 407.6 438.6 408.5 442.9C409.4 447.2 410 449.8 411.2 452.5C412.4 455.2 413.9 457.4 415.7 458.9C417.5 460.4 419.7 460.8 422.1 461.3C424.5 461.8 428.7 461.9 430 462" fill="none" stroke="#111" stroke-width="1.3" stroke-linejoin="round"/>
<path d="M294.7 276.4H483.3" fill="none" stroke="#6a6a6a" stroke-width="1.4"/>
<path d="M294.7 462.9V275.9M483.3 275.9V462.9" fill="none" stroke="#1a1a1a" stroke-width="1.05"/>
<path d="M294.2 462.5H483.8" fill="none" stroke="#1a1a1a" stroke-width="2"/>
<path d="M289.3 462.9H294.7M292.1 454.1H294.7M292.1 445.2H294.7M292.1 436.4H294.7M289.3 427.5H294.7M292.1 418.7H294.7M292.1 409.9H294.7M292.1 401H294.7M289.3 392.2H294.7M292.1 383.3H294.7M292.1 374.5H294.7M292.1 365.7H294.7M289.3 356.8H294.7M292.1 348H294.7M292.1 339.1H294.7M292.1 330.3H294.7M289.3 321.5H294.7M292.1 312.6H294.7M292.1 303.8H294.7M292.1 294.9H294.7M289.3 286.1H294.7" stroke="#1a1a1a" stroke-width="1.05" fill="none"/>
<text transform="translate(285.5 466.2) scale(.93 1) rotate(.03)" text-anchor="end" font-size="9.5" class="tk">0</text>
<text transform="translate(285.5 430.8) scale(.93 1) rotate(.03)" text-anchor="end" font-size="9.5" class="tk">20</text>
<text transform="translate(285.5 395.5) scale(.93 1) rotate(.03)" text-anchor="end" font-size="9.5" class="tk">40</text>
<text transform="translate(285.5 360.1) scale(.93 1) rotate(.03)" text-anchor="end" font-size="9.5" class="tk">60</text>
<text transform="translate(285.5 324.8) scale(.93 1) rotate(.03)" text-anchor="end" font-size="9.5" class="tk">80</text>
<text transform="translate(285.5 289.4) scale(.93 1) rotate(.03)" text-anchor="end" font-size="9.5" class="tk">100</text>
<path d="M294.7 462.9V468.5M308.8 462.9V465.4M317 462.9V465.4M322.9 462.9V465.4M327.4 462.9V465.4M331.1 462.9V465.4M334.2 462.9V465.4M336.9 462.9V465.4M339.3 462.9V465.4M341.5 462.9V468.5M355.6 462.9V465.4M363.8 462.9V465.4M369.6 462.9V465.4M374.2 462.9V465.4M377.9 462.9V465.4M381 462.9V465.4M383.7 462.9V465.4M386.1 462.9V465.4M388.2 462.9V468.5M402.3 462.9V465.4M410.6 462.9V465.4M416.4 462.9V465.4M420.9 462.9V465.4M424.6 462.9V465.4M427.8 462.9V465.4M430.5 462.9V465.4M432.9 462.9V465.4M435 462.9V468.5M449.6 462.9V465.4M458.1 462.9V465.4M464.1 462.9V465.4M468.8 462.9V465.4M472.6 462.9V465.4M475.8 462.9V465.4M478.6 462.9V465.4M481.1 462.9V465.4M483.3 462.9V468.5" stroke="#1a1a1a" stroke-width="1" fill="none"/>
<text transform="translate(303.4 481.4) scale(.93 1) rotate(.03)" text-anchor="middle" font-size="9.5" class="tk">10</text>
<text transform="translate(308.1 475.3) scale(.93 1) rotate(.03)" font-size="9.5" class="tk">0</text>
<text transform="translate(342.1 481.4) scale(.93 1) rotate(.03)" text-anchor="middle" font-size="9.5" class="tk">10</text>
<text transform="translate(346.8 475.3) scale(.93 1) rotate(.03)" font-size="9.5" class="tk">1</text>
<text transform="translate(388.8 481.4) scale(.93 1) rotate(.03)" text-anchor="middle" font-size="9.5" class="tk">10</text>
<text transform="translate(393.5 475.3) scale(.93 1) rotate(.03)" font-size="9.5" class="tk">2</text>
<text transform="translate(435.6 481.4) scale(.93 1) rotate(.03)" text-anchor="middle" font-size="9.5" class="tk">10</text>
<text transform="translate(440.3 475.3) scale(.93 1) rotate(.03)" font-size="9.5" class="tk">3</text>
<text transform="translate(482.3 481.4) scale(.93 1) rotate(.03)" text-anchor="middle" font-size="9.5" class="tk">10</text>
<text transform="translate(487 475.3) scale(.93 1) rotate(.03)" font-size="9.5" class="tk">4</text>
<text x="384.3" y="502.1" text-anchor="middle" font-size="12.2" textLength="33" lengthAdjust="spacingAndGlyphs" class="lb">BB7.2</text>
<text x="260.6" y="276.2" font-size="24.6" font-weight="bold" fill="#000">D</text>
<text transform="translate(265.7 372.6) rotate(-90)" text-anchor="middle" font-size="12.2" class="lb">% of Max</text>
<path d="M50.7 710.3C50.8 709.1 50.9 705.1 51.3 703C51.7 700.9 52.5 700.7 53.3 697.7C54.1 694.7 55 689.7 55.9 684.9C56.8 680.1 57.8 675.6 58.6 669C59.5 662.4 60.5 651.5 61 645C61.5 638.5 61.2 638.7 61.8 629.9C62.4 621.1 63.7 601.8 64.4 592C65.1 582.2 65.3 578.4 65.8 570.9C66.3 563.4 66.9 553.9 67.5 547C68.1 540.1 68.6 531.1 69.3 529.8C70 528.5 70.8 534.8 71.5 539C72.2 543.2 72.7 548.2 73.3 554.9C73.9 561.5 74.8 572.7 75.2 578.9C75.6 585.1 75 583.5 75.8 592C76.6 600.5 78.8 621.1 79.8 629.9C80.8 638.7 80.8 638.5 81.7 645C82.6 651.5 84 662.4 84.9 669C85.8 675.6 86.2 680.1 87.3 684.9C88.4 689.7 89.8 694.4 91.3 697.7C92.8 701 94.2 703 96.1 704.9C98 706.8 100.5 708 102.5 708.9C104.5 709.8 107.1 710.1 108 710.3Z" fill="#afafaf" stroke="none"/>
<path d="M50.9 701.5C51 700.9 51.1 700.5 51.7 697.7C52.3 694.9 53.5 689.7 54.3 684.9C55.1 680.1 55.6 675.6 56.5 669C57.4 662.4 58.9 651.5 59.4 645C59.9 638.5 59.2 638.7 59.7 629.9C60.2 621.1 61.7 601.8 62.4 592C63.1 582.2 63.3 578.4 63.8 570.9C64.3 563.4 64.9 553 65.4 547C65.9 541 66.4 538 67 535C67.6 532 68.2 528.5 69 529.2C69.8 529.9 71 534.7 71.8 539C72.6 543.3 73 548.2 73.7 554.9C74.4 561.5 75.2 572.7 75.7 578.9C76.2 585.1 76 583.5 76.9 592C77.8 600.5 80 621.1 80.9 629.9C81.8 638.7 81.8 639.8 82.5 645C83.2 650.2 83.8 655.7 84.9 661C86 666.3 87.6 672.1 88.9 676.9C90.2 681.7 91.3 686 92.9 689.7C94.5 693.4 96.5 696.8 98.5 699.3C100.5 701.8 102.6 703.6 104.9 704.9C107.2 706.2 109.9 706.7 112.1 707.3C114.3 707.9 115.2 708.4 118 708.7C120.8 709 127 709 128.8 709" fill="none" stroke="#111" stroke-width="1.4" stroke-dasharray="1.3 1.6"/>
<path d="M50.9 639C50.9 648.3 50.7 683.9 50.9 695C51.1 706.1 51.1 704.6 52.2 705.7C53.4 706.8 56.1 703.3 57.8 701.7C59.5 700.1 61.1 698.2 62.6 696.1C64.1 694 65.5 690.8 66.6 688.9C67.7 687 68 686.1 69 684.6C70 683.1 71.7 681.8 72.9 680.1C74.1 678.4 75.2 675.8 76.1 674.5C77 673.2 77.5 673.6 78.2 672.1C78.9 670.6 79.5 668.7 80.1 665.8C80.7 662.9 81.5 658.1 82 654.6C82.5 651.1 82.8 649.1 83.3 645C83.8 640.9 84.3 635.1 84.9 629.9C85.5 624.7 86.2 620.3 86.8 614C87.4 607.7 88.1 597.9 88.6 592C89.1 586.1 89.4 582.2 89.7 578.9C90 575.6 90.2 575.5 90.6 572C90.9 568.5 91.3 561.6 91.8 557.9C92.3 554.2 92.9 553.4 93.4 549.9C93.9 546.4 94.5 539.2 95 536.8C95.5 534.3 95.8 536.3 96.2 535.2C96.6 534.1 97 529.9 97.4 530.4C97.8 530.9 98.3 535.5 98.6 538C98.9 540.5 99.1 543.5 99.4 545.2C99.7 546.9 100.3 547 100.6 548.3C100.9 549.5 101.1 551.8 101.4 552.7C101.7 553.6 101.9 553.9 102.2 553.9C102.5 553.9 102.7 552.5 103 552.9C103.3 553.3 103.5 554.5 103.8 556.3C104.1 558.1 104.5 562.1 104.8 563.5C105.1 564.9 105.3 564.8 105.6 564.7C105.9 564.6 106.2 563.2 106.6 563.1C107 563 107.4 564.5 107.8 564.3C108.2 564.1 108.5 562.6 108.8 561.9C109.1 561.2 109.2 560.4 109.4 560.3C109.6 560.2 109.8 561.5 110.2 561.5C110.6 561.5 111.3 561 111.7 560.3C112.1 559.6 112.5 557.4 112.8 557.5C113.1 557.6 113.2 558.7 113.7 561.1C114.2 563.5 115.2 568.5 115.7 572C116.2 575.5 116.5 578.8 116.9 582.1C117.3 585.4 117.6 586.7 118.2 592C118.8 597.3 119.7 607.3 120.4 614C121.1 620.7 121.8 624 122.4 632C123.1 640 123.5 653.3 124.3 661.9C125.1 670.5 126.1 677.8 127 683.5C127.9 689.2 128.8 692.5 129.7 696.1C130.6 699.7 131.3 703 132.4 705.1C133.5 707.2 134.8 708 136 708.7C137.2 709.5 137.3 709.4 139.6 709.6C141.9 709.8 148.3 709.9 150 709.9" fill="none" stroke="#111" stroke-width="1.3" stroke-linejoin="round"/>
<path d="M50.7 710.8V520.6H239.5V710.8" fill="none" stroke="#1a1a1a" stroke-width="1.05"/>
<path d="M50.2 710.4H240" fill="none" stroke="#1a1a1a" stroke-width="2"/>
<path d="M45.3 710.8H50.7M48.1 701.8H50.7M48.1 692.8H50.7M48.1 683.8H50.7M45.3 674.7H50.7M48.1 665.7H50.7M48.1 656.7H50.7M48.1 647.7H50.7M45.3 638.7H50.7M48.1 629.7H50.7M48.1 620.6H50.7M48.1 611.6H50.7M45.3 602.6H50.7M48.1 593.6H50.7M48.1 584.6H50.7M48.1 575.6H50.7M45.3 566.6H50.7M48.1 557.5H50.7M48.1 548.5H50.7M48.1 539.5H50.7M45.3 530.5H50.7" stroke="#1a1a1a" stroke-width="1.05" fill="none"/>
<text transform="translate(41.5 714.1) scale(.93 1) rotate(.03)" text-anchor="end" font-size="9.5" class="tk">0</text>
<text transform="translate(41.5 678) scale(.93 1) rotate(.03)" text-anchor="end" font-size="9.5" class="tk">20</text>
<text transform="translate(41.5 642) scale(.93 1) rotate(.03)" text-anchor="end" font-size="9.5" class="tk">40</text>
<text transform="translate(41.5 605.9) scale(.93 1) rotate(.03)" text-anchor="end" font-size="9.5" class="tk">60</text>
<text transform="translate(41.5 569.9) scale(.93 1) rotate(.03)" text-anchor="end" font-size="9.5" class="tk">80</text>
<text transform="translate(41.5 533.8) scale(.93 1) rotate(.03)" text-anchor="end" font-size="9.5" class="tk">100</text>
<path d="M50.7 710.8V716.4M64.8 710.8V713.3M73 710.8V713.3M78.9 710.8V713.3M83.4 710.8V713.3M87.1 710.8V713.3M90.3 710.8V713.3M93 710.8V713.3M95.4 710.8V713.3M97.5 710.8V716.4M111.6 710.8V713.3M119.9 710.8V713.3M125.7 710.8V713.3M130.2 710.8V713.3M134 710.8V713.3M137.1 710.8V713.3M139.8 710.8V713.3M142.2 710.8V713.3M144.3 710.8V716.4M158.4 710.8V713.3M166.7 710.8V713.3M172.5 710.8V713.3M177.1 710.8V713.3M180.8 710.8V713.3M183.9 710.8V713.3M186.6 710.8V713.3M189 710.8V713.3M191.2 710.8V716.4M205.7 710.8V713.3M214.2 710.8V713.3M220.3 710.8V713.3M225 710.8V713.3M228.8 710.8V713.3M232 710.8V713.3M234.8 710.8V713.3M237.3 710.8V713.3M239.5 710.8V716.4" stroke="#1a1a1a" stroke-width="1" fill="none"/>
<text transform="translate(59.4 729.3) scale(.93 1) rotate(.03)" text-anchor="middle" font-size="9.5" class="tk">10</text>
<text transform="translate(64.1 723.2) scale(.93 1) rotate(.03)" font-size="9.5" class="tk">0</text>
<text transform="translate(98.1 729.3) scale(.93 1) rotate(.03)" text-anchor="middle" font-size="9.5" class="tk">10</text>
<text transform="translate(102.8 723.2) scale(.93 1) rotate(.03)" font-size="9.5" class="tk">1</text>
<text transform="translate(144.9 729.3) scale(.93 1) rotate(.03)" text-anchor="middle" font-size="9.5" class="tk">10</text>
<text transform="translate(149.6 723.2) scale(.93 1) rotate(.03)" font-size="9.5" class="tk">2</text>
<text transform="translate(191.8 729.3) scale(.93 1) rotate(.03)" text-anchor="middle" font-size="9.5" class="tk">10</text>
<text transform="translate(196.5 723.2) scale(.93 1) rotate(.03)" font-size="9.5" class="tk">3</text>
<text transform="translate(238.5 729.3) scale(.93 1) rotate(.03)" text-anchor="middle" font-size="9.5" class="tk">10</text>
<text transform="translate(243.2 723.2) scale(.93 1) rotate(.03)" font-size="9.5" class="tk">4</text>
<text x="138" y="741.8" text-anchor="middle" font-size="12.2" textLength="67.8" lengthAdjust="spacingAndGlyphs" class="lb">RL4D-GVL9</text>
<text x="12.7" y="519.5" font-size="24.6" font-weight="bold" fill="#000">E</text>
<text transform="translate(18.2 613.3) rotate(-90)" text-anchor="middle" font-size="12.2" class="lb">% of Max</text>
</svg>
</body></html>
